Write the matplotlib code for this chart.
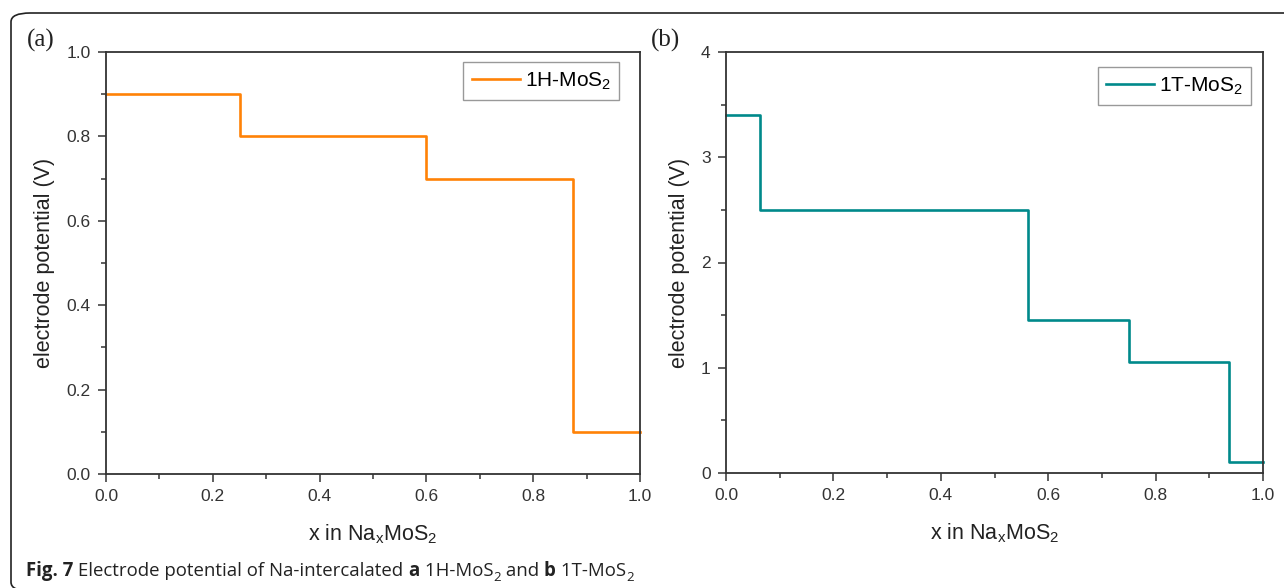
import matplotlib
matplotlib.use("Agg")
import matplotlib.pyplot as plt
from matplotlib.patches import FancyBboxPatch
from matplotlib.text import Annotation
from matplotlib.ticker import MultipleLocator

plt.rcParams['font.family'] = ['Liberation Sans', 'DejaVu Sans']
plt.rcParams['mathtext.fontset'] = 'custom'
plt.rcParams['mathtext.rm'] = 'Liberation Sans'
plt.rcParams['mathtext.it'] = 'Liberation Sans'
plt.rcParams['mathtext.default'] = 'regular'

# 1H-MoS2 step profile: plateau edges and potentials
x_1h = [0.0, 0.25, 0.6, 0.875, 1.0]
v_1h = [0.9, 0.8, 0.7, 0.1]
# 1T-MoS2 step profile
x_1t = [0.0, 0.0625, 0.5625, 0.75, 0.9375, 1.0]
v_1t = [3.4, 2.5, 1.45, 1.05, 0.1]

W, H = 1284, 588
fig = plt.figure(figsize=(W / 100, H / 100), dpi=100)


def px_axes(l, t, r, b):
    return fig.add_axes([l / W, 1 - b / H, (r - l) / W, (b - t) / H])


def step_xy(edges, vals):
    xs, ys = [], []
    for i, v in enumerate(vals):
        xs += [edges[i], edges[i + 1]]
        ys += [v, v]
    return xs, ys


def style(ax, ymax, ymaj, ymin):
    ax.set_xlim(0, 1)
    ax.set_ylim(0, ymax)
    ax.xaxis.set_major_locator(MultipleLocator(0.2))
    ax.xaxis.set_minor_locator(MultipleLocator(0.1))
    ax.yaxis.set_major_locator(MultipleLocator(ymaj))
    ax.yaxis.set_minor_locator(MultipleLocator(ymin))
    ax.tick_params(which='both', direction='out', top=False, right=False,
                   color='#333333', width=1.1, labelcolor='#333333', labelsize=12.5)
    ax.tick_params(which='major', length=6, pad=5)
    ax.tick_params(which='minor', length=3.3)
    for s in ax.spines.values():
        s.set_color('#333333')
        s.set_linewidth(1.3)
    ax.set_xlabel('x in Na$_x$MoS$_2$', fontsize=15.5, color='#222222', labelpad=13)
    ax.set_ylabel('electrode potential (V)', fontsize=15.5, color='#222222', labelpad=8)


def add_legend(ax, anchor):
    ax.legend(loc='upper right', bbox_to_anchor=anchor, borderaxespad=0,
              fancybox=False, edgecolor='#999999', fontsize=15, handlelength=2.3,
              handletextpad=0.25, borderpad=0.4, framealpha=1)


ax1 = px_axes(106, 52, 640, 474)
xs, ys = step_xy(x_1h, v_1h)
ax1.plot(xs, ys, color='#ff8207', lw=1.9, label='1H-MoS$_2$', clip_on=False)
style(ax1, 1.0, 0.2, 0.1)
ax1.yaxis.set_major_formatter('{x:.1f}')
add_legend(ax1, (0.961, 0.976))

ax2 = px_axes(726, 52, 1263, 473)
xs, ys = step_xy(x_1t, v_1t)
ax2.plot(xs, ys, color='#00898b', lw=1.9, label='1T-MoS$_2$', clip_on=False)
style(ax2, 4, 1, 0.5)
add_legend(ax2, (0.978, 0.964))

for lbl, xp in [('(a)', 27), ('(b)', 651)]:
    fig.text(xp / W, 1 - 40 / H, lbl, family='Liberation Serif', fontsize=18,
             va='center', ha='left', color='#222222')

# outer frame with rounded corners, right and bottom edges run off the canvas
frame = FancyBboxPatch((11 / W, -3 / H), 1.2, (H - 10) / H,
                       boxstyle='round,pad=0,rounding_size=0.015',
                       transform=fig.transFigure, fill=False,
                       edgecolor='#222222', lw=1.2)
fig.patches.append(frame)

# caption built from pieces so bold / subscript parts follow on
cap_y = 1 - 576 / H
pieces = [('Fig. 7', 'bold', 0), (' Electrode potential of Na-intercalated ', 'normal', 0),
          ('a', 'bold', 0), (' 1H-MoS', 'normal', 0), ('2', 'normal', 1),
          (' and ', 'normal', 0), ('b', 'bold', 0), (' 1T-MoS', 'normal', 0),
          ('2', 'normal', 1)]
last = None
for txt, wt, sub in pieces:
    size = 9.5 if sub else 13.4
    dy = -3.3 if sub else 0
    if last is None:
        last = fig.text(26 / W, cap_y, txt, family='Open Sans', fontweight=wt,
                        fontsize=size, va='baseline', color='#222222')
        continue
    last = fig.add_artist(Annotation(txt, xy=(1, cap_y), xycoords=(last, 'figure fraction'),
                                     xytext=(0, dy), textcoords='offset points',
                                     family='Open Sans', fontweight=wt, fontsize=size,
                                     va='baseline', ha='left', color='#222222',
                                     annotation_clip=False))

fig.savefig('out.png', dpi=100)
